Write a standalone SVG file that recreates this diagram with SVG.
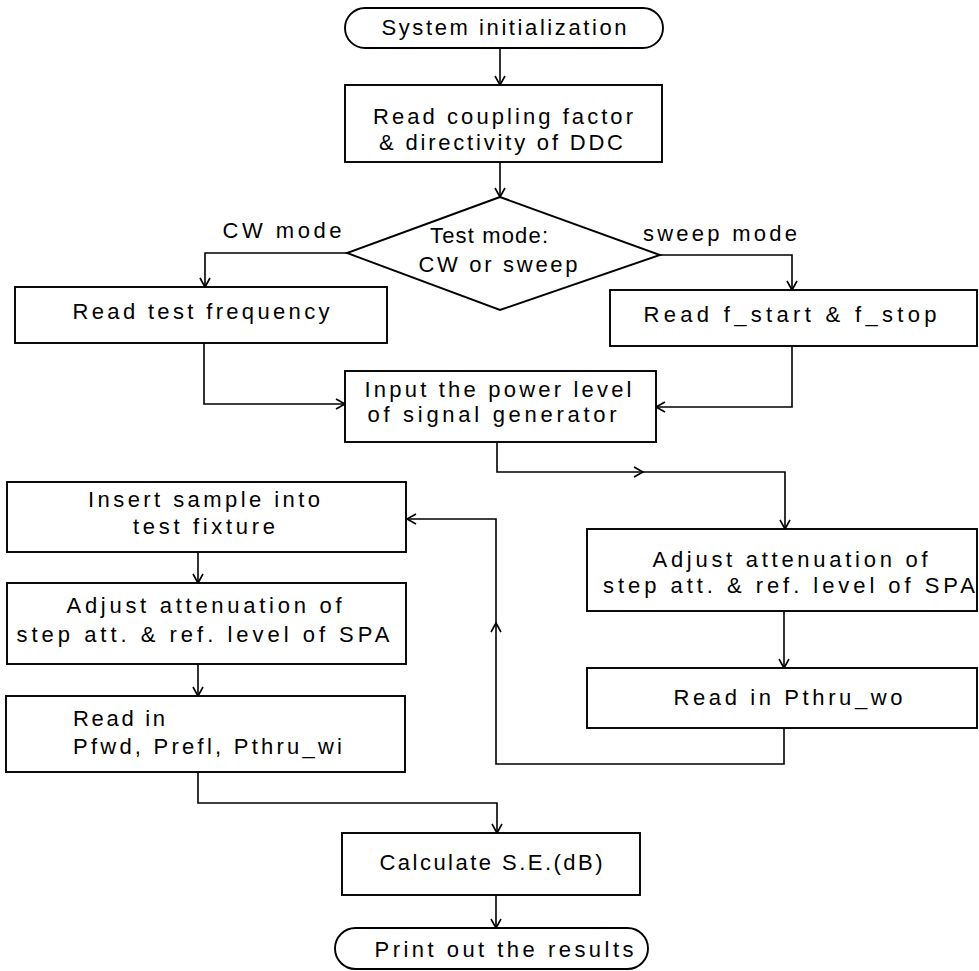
<svg xmlns="http://www.w3.org/2000/svg" width="979" height="971" viewBox="0 0 979 971">
<defs>
<marker id="ah" markerUnits="userSpaceOnUse" markerWidth="14" markerHeight="14" refX="10" refY="6" orient="auto">
<path d="M1,1 L10,6 L1,11" fill="none" stroke="#000" stroke-width="1.6"/>
</marker>
<style>
.n{fill:#fff;stroke:#000;stroke-width:1.9}
.c{fill:none;stroke:#000;stroke-width:1.6}
.a{marker-end:url(#ah)}
text{font-family:"Liberation Sans",Arial,sans-serif;font-size:22px;fill:#000;text-anchor:middle}
.s{text-anchor:start}
</style>
</defs>
<rect width="979" height="971" fill="#fff"/>
<g id="connectors">
<path class="c a" d="M500,48 V85"/>
<path class="c a" d="M500,162 V197"/>
<path class="c a" d="M347,253 H205 V287"/>
<path class="c a" d="M660,255 H792 V290"/>
<path class="c a" d="M204,343 V404 H345"/>
<path class="c a" d="M792,346 V407 H656"/>
<path class="c a" d="M497,442 V472 H643"/>
<path class="c a" d="M643,472 H785 V529"/>
<path class="c a" d="M198,552 V583"/>
<path class="c a" d="M198,664 V696"/>
<path class="c a" d="M784,611 V668"/>
<path class="c a" d="M784,728 V764 H496 V623"/>
<path class="c a" d="M496,623 V519 H407"/>
<path class="c a" d="M198,772 V803 H497 V833"/>
<path class="c a" d="M496,895 V928"/>
</g>
<g id="start">
<rect class="n" x="345" y="8" width="318" height="40" rx="20"/>
<text x="504" y="35" textLength="245" lengthAdjust="spacing">System initialization</text>
</g>
<g id="read-coupling">
<rect class="n" x="345" y="85" width="317" height="77"/>
<text x="503" y="124" textLength="260" lengthAdjust="spacing">Read coupling factor</text>
<text x="501" y="150" textLength="244" lengthAdjust="spacing">&amp; directivity of DDC</text>
</g>
<g id="decision">
<polygon class="n" points="500,197 347,253 500,310 660,255"/>
<text x="489" y="243" textLength="118" lengthAdjust="spacing">Test mode:</text>
<text x="498" y="272" textLength="159" lengthAdjust="spacing">CW or sweep</text>
</g>
<g id="labels">
<text x="282" y="238" textLength="119" lengthAdjust="spacing">CW mode</text>
<text x="720" y="241" textLength="154" lengthAdjust="spacing">sweep mode</text>
</g>
<g id="read-test-freq">
<rect class="n" x="15" y="287" width="372" height="56"/>
<text x="201" y="319" textLength="257" lengthAdjust="spacing">Read test frequency</text>
</g>
<g id="read-fstart">
<rect class="n" x="610" y="290" width="367" height="56"/>
<text x="790" y="322" textLength="293" lengthAdjust="spacing">Read f_start &amp; f_stop</text>
</g>
<g id="input-power">
<rect class="n" x="345" y="371" width="311" height="71"/>
<text x="498" y="397" textLength="267" lengthAdjust="spacing">Input the power level</text>
<text x="492" y="422" textLength="249" lengthAdjust="spacing">of signal generator</text>
</g>
<g id="adjust-right">
<rect class="n" x="587" y="529" width="390" height="82"/>
<text x="790" y="567" textLength="275" lengthAdjust="spacing">Adjust attenuation of</text>
<text x="789" y="593" textLength="372" lengthAdjust="spacing">step att. &amp; ref. level of SPA</text>
</g>
<g id="read-pthru-wo">
<rect class="n" x="587" y="668" width="390" height="60"/>
<text x="788" y="705" textLength="229" lengthAdjust="spacing">Read in Pthru_wo</text>
</g>
<g id="insert-sample">
<rect class="n" x="7" y="482" width="399" height="70"/>
<text x="204" y="507" textLength="232" lengthAdjust="spacing">Insert sample into</text>
<text x="204" y="534" textLength="142" lengthAdjust="spacing">test fixture</text>
</g>
<g id="adjust-left">
<rect class="n" x="7" y="583" width="399" height="81"/>
<text x="204" y="613" textLength="275" lengthAdjust="spacing">Adjust attenuation of</text>
<text x="203" y="642" textLength="373" lengthAdjust="spacing">step att. &amp; ref. level of SPA</text>
</g>
<g id="read-pfwd">
<rect class="n" x="6" y="696" width="399" height="76"/>
<text class="s" x="73" y="726" textLength="92" lengthAdjust="spacing">Read in</text>
<text class="s" x="73" y="754" textLength="269" lengthAdjust="spacing">Pfwd, Prefl, Pthru_wi</text>
</g>
<g id="calculate">
<rect class="n" x="342" y="833" width="298" height="62"/>
<text x="491" y="870" textLength="223" lengthAdjust="spacing">Calculate S.E.(dB)</text>
</g>
<g id="print">
<rect class="n" x="335" y="928" width="313" height="41" rx="20.5"/>
<text x="504" y="957" textLength="259" lengthAdjust="spacing">Print out the results</text>
</g>
</svg>
